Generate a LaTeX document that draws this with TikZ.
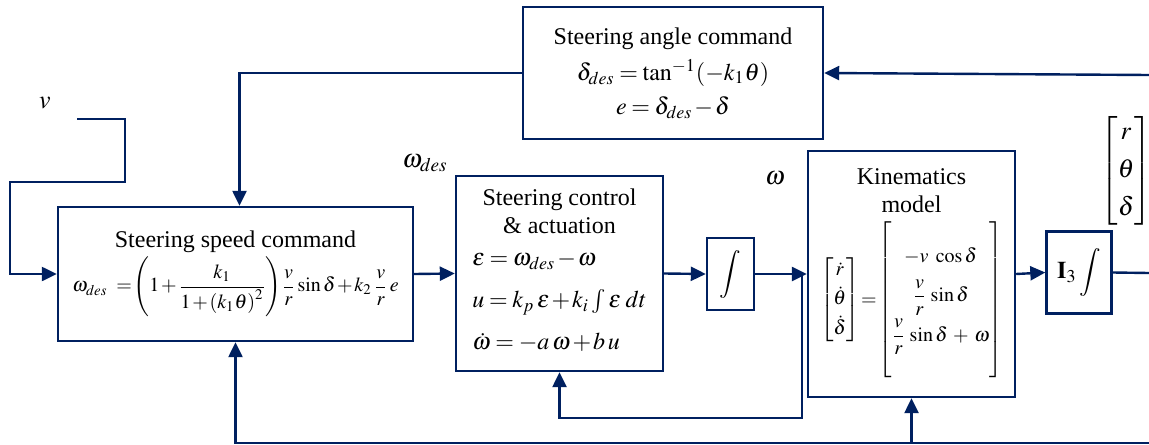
\documentclass[tikz,border=0pt]{standalone}
\usepackage{amsmath}
\usepackage{mathptmx}
\usepackage{fontspec}
\setmainfont{Liberation Serif}
\usetikzlibrary{arrows.meta}
\definecolor{navy}{RGB}{0,32,96}
\newcommand{\tightmath}{\thickmuskip=3.5mu plus 1mu\medmuskip=1.5mu plus 1mu\arraycolsep=3pt}
\newcommand{\eqsize}{\fontsize{10}{12}\selectfont}

\begin{document}
\begin{tikzpicture}[
        x=0.5pt, y=-0.5pt,
        font=\fontsize{12}{14}\selectfont\tightmath,
        block/.style={
            draw=navy,
            line width=1.2pt,
            align=center,
            inner sep=2pt,
            fill=white
        },
        arrow/.style={
            -{Triangle[length=7.5pt, width=7pt]},
            draw=navy,
            line width=1.2pt
        },
        wire/.style={
            draw=navy,
            line width=1.2pt
        },
        lbl/.style={
            inner sep=0pt,
            font=\fontsize{13}{15}\selectfont\tightmath
        }
    ]

    \useasboundingbox (0,0) rectangle (1149,444);

    \node[block, minimum width=150pt, minimum height=66pt] (angle) at (673,73)
        {Steering angle command\\[4pt]
         $\delta_{des}=\tan^{-1}(-k_1\theta)$\\[3pt]
         $e=\delta_{des}-\delta$};
    \node[block, minimum width=177.5pt, minimum height=67pt] (speed) at (235.5,274)
        {Steering speed command\\[1pt]
         {\eqsize$\omega_{des}\ =\!\left(1+\dfrac{k_1}{1+\left(k_1\theta\right)^2}\right)\!\dfrac{v}{r}\sin\delta+k_2\,\dfrac{v}{r}\,e$}};
    \node[block, minimum width=103.5pt, minimum height=97.5pt] (ctrl) at (559.5,273.5)
        {Steering control\\ \& actuation\\[5pt]
         $\begin{array}{@{}l@{}}
            \varepsilon=\omega_{des}-\omega\\[7pt]
            u=k_p\,\varepsilon+k_i\int\varepsilon\;dt\\[7pt]
            \dot\omega=-a\,\omega+b\,u
         \end{array}$};
    \node[block, minimum width=23.5pt, minimum height=36pt] (integ) at (730.5,274)
        {$\displaystyle\int$};
    \node[block, minimum width=103.5pt, minimum height=123pt] (kin) at (911.5,274)
        {Kinematics\\ model\\[2pt]
         {\eqsize$\begin{bmatrix}\dot r\\[2pt] \dot\theta\\[2pt] \dot\delta\end{bmatrix}
          \!=\!\left[\rule[-37pt]{0pt}{80pt}\begin{matrix}-v\ \cos\delta\\[5pt]
                          \dfrac{v}{r}\,\sin\delta\\[5pt]
                          \dfrac{v}{r}\,\sin\delta\;+\;\omega\end{matrix}\right]$}};
    \node[block, minimum width=32.5pt, minimum height=41pt] (ithree) at (1079,272.5)
        {$\mathbf{I}_3\displaystyle\int$};

    % signal labels
    \node[lbl] (vlbl) at (45,103) {$v$};
    \node[lbl] (wdlbl) at (425,163) {$\omega_{des}$};
    \node[lbl] (wlbl) at (775,178) {$\omega$};
    \node[lbl] (state) at (1126,171)
        {$\begin{bmatrix}r\\[4pt] \theta\\[4pt] \delta\end{bmatrix}$};

    % free ends
    \coordinate (vin) at (77,119);
    \coordinate (fbr) at (1149,75);
    \coordinate (out) at (1149,273);
    \coordinate (fbb) at (1149,443);
    \coordinate (br) at (802,273);

    \draw[arrow] (vin) -- ++(48,0) -- ++(0,63) -- ++(-115,0) |- (speed.west);
    \draw[arrow] (angle.west) -| ([xshift=2pt]speed.north);
    \draw[arrow] (fbr) -- (angle.east);

    \draw[arrow] (speed.east) -- (ctrl.west);
    \draw[arrow] (ctrl.east) -- (integ.west);
    \draw[arrow] (integ.east) -- (kin.west);
    \draw[arrow] (br) -- ++(0,145) -| (ctrl.south);
    \draw[arrow] (kin.east) -- (ithree.west);
    \draw[wire] (ithree.east) -- (out);

    \draw[arrow] (fbb) -| (speed.south);
    \draw[arrow] (kin.south |- fbb) -- (kin.south);

\end{tikzpicture}
\end{document}
